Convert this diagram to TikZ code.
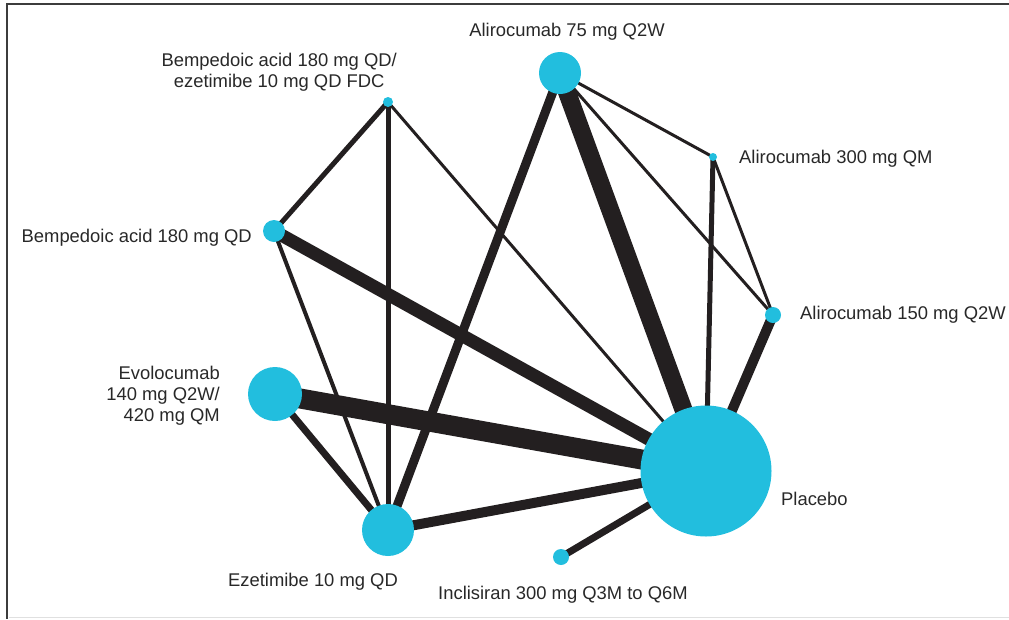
\documentclass[tikz,border=0pt]{standalone}
\usepackage{fontspec}
\setmainfont{Liberation Sans}
\usetikzlibrary{backgrounds}
\definecolor{nodecyan}{RGB}{34,190,222}
\definecolor{edgeblack}{RGB}{35,31,32}
\definecolor{framegrey}{RGB}{60,60,60}
\definecolor{labeltext}{RGB}{40,40,40}
\begin{document}
\begin{tikzpicture}[x=1pt,y=-1pt,
  trt/.style={circle,fill=nodecyan,inner sep=0pt,draw=none,minimum size=#1},
  lbl/.style={font=\fontsize{18.4}{21}\selectfont,inner sep=0pt,text=labeltext},
  conn/.style={draw=edgeblack,line width=#1}]
\useasboundingbox (0,0) rectangle (1009,619);
% frame
\coordinate (ftl) at (7,4);
\coordinate (ftr) at (1009,4);
\coordinate (fbl) at (7,619);
\coordinate (gbl) at (9,617.5);
\coordinate (gbr) at (1009,617.5);
\draw[framegrey,line width=2.5pt] (ftr) -- (ftl) -- (fbl);
\draw[black!12,line width=1.5pt] (gbl) -- (gbr);
% nodes
\node[trt=42pt] (a75) at (560,73) {};
\node[trt=10pt] (fdc) at (388,102) {};
\node[trt=8pt] (a300) at (713,157) {};
\node[trt=22pt] (bem) at (274,231) {};
\node[trt=16pt] (a150) at (773,315) {};
\node[trt=54pt] (evo) at (275,394) {};
\node[trt=131pt] (pla) at (706,471) {};
\node[trt=52pt] (eze) at (388,530) {};
\node[trt=16pt] (inc) at (561,557) {};
% connectors
\begin{pgfonlayer}{background}
\draw[conn=18pt] (a75.center) -- (pla.center);
\draw[conn=9pt] (a75.center) -- (eze.center);
\draw[conn=3pt] (a75.center) -- (a300.center);
\draw[conn=3pt] (a75.center) -- (a150.center);
\draw[conn=3pt] (a300.center) -- (a150.center);
\draw[conn=5pt] (a300.center) -- (pla.center);
\draw[conn=10pt] (a150.center) -- (pla.center);
\draw[conn=5pt] (fdc.center) -- (bem.center);
\draw[conn=5pt] (fdc.center) -- (eze.center);
\draw[conn=3pt] (fdc.center) -- (pla.center);
\draw[conn=13pt] (bem.center) -- (pla.center);
\draw[conn=4pt] (bem.center) -- (eze.center);
\draw[conn=20pt] (evo.center) -- (pla.center);
\draw[conn=7pt] (evo.center) -- (eze.center);
\draw[conn=10pt] (eze.center) -- (pla.center);
\draw[conn=7pt] (inc.center) -- (pla.center);
\end{pgfonlayer}
% labels
\node[lbl,anchor=base] (la75) at (567,36.6) {Alirocumab 75 mg Q2W};
\node[lbl,anchor=east,align=center] (lfdc) at (397,72) {Bempedoic acid 180 mg QD/\\ezetimibe 10 mg QD FDC};
\node[lbl,anchor=base west] (la300) at (739,163.6) {Alirocumab 300 mg QM};
\node[lbl,anchor=base east] (lbem) at (252,242.6) {Bempedoic acid 180 mg QD};
\node[lbl,anchor=base west] (la150) at (800,319.6) {Alirocumab 150 mg Q2W};
\node[lbl,anchor=east,align=right] (levo) at (220,396) {Evolocumab\\140 mg Q2W/\\420 mg QM};
\node[lbl,anchor=base west] (lpla) at (781,505.6) {Placebo};
\node[lbl,anchor=base] (leze) at (313,586.6) {Ezetimibe 10 mg QD};
\node[lbl,anchor=base west] (linc) at (438,599.6) {Inclisiran 300 mg Q3M to Q6M};
\end{tikzpicture}
\end{document}
